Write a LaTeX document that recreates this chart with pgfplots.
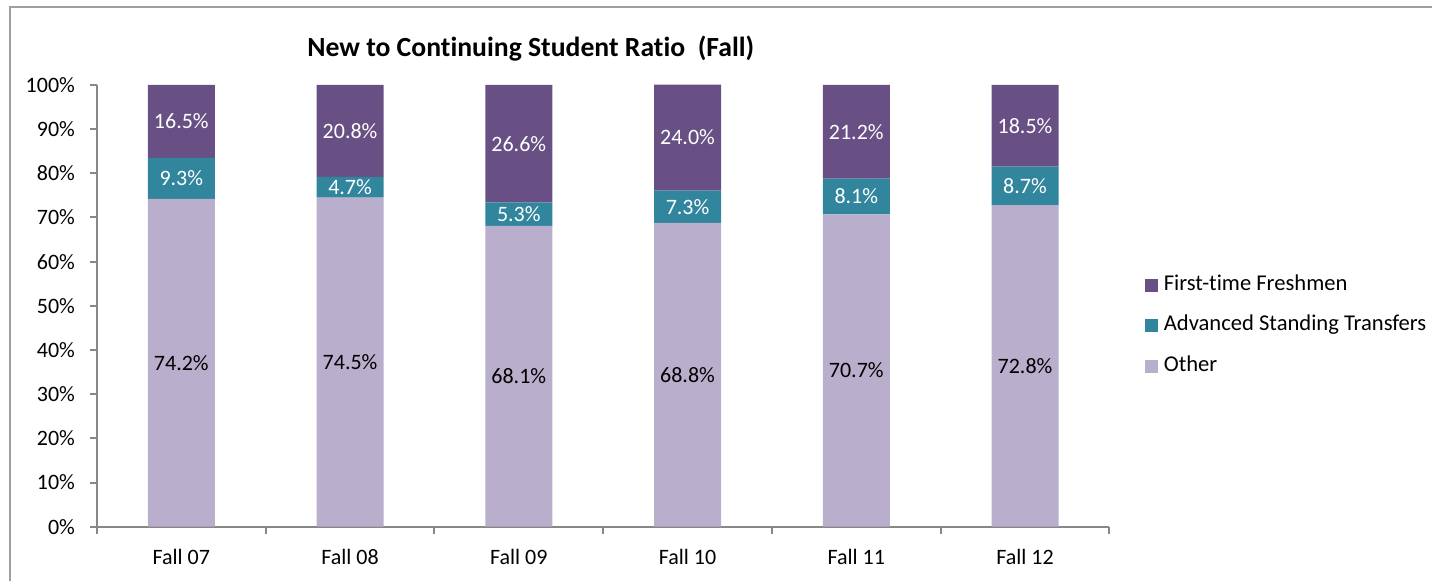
\documentclass[border=0pt]{standalone}
\usepackage{fontspec}
\setmainfont[RawFeature={-liga;-clig;-calt;-dlig}]{Carlito}
\usepackage{pgfplots}
\usepackage{pgfplotstable}
\pgfplotsset{compat=1.18}

\definecolor{ftf}{HTML}{685084}
\definecolor{ast}{HTML}{31859C}
\definecolor{oth}{HTML}{B9AECB}
\definecolor{axgray}{HTML}{878787}

% shares per term (percent)
\pgfplotstableread{
x other ast ftf
0 74.2 9.3 16.5
1 74.5 4.7 20.8
2 68.1 5.3 26.6
3 68.8 7.3 24.0
4 70.7 8.1 21.2
5 72.8 8.7 18.5
}\shares

% label positions (middle of each segment)
\pgfplotstableread{
x ymid val
0 37.10 74.2
1 37.25 74.5
2 34.05 68.1
3 34.40 68.8
4 35.35 70.7
5 36.40 72.8
}\lblother
\pgfplotstableread{
x ymid val
0 78.85 9.3
1 76.85 4.7
2 70.75 5.3
3 72.45 7.3
4 74.75 8.1
5 77.15 8.7
}\lblast
\pgfplotstableread{
x ymid val
0 91.75 16.5
1 89.60 20.8
2 86.70 26.6
3 88.10 24.0
4 89.40 21.2
5 90.75 18.5
}\lblftf

\pgfplotsset{
  /pgf/number format/assume math mode=true,
  frame/.style={
    at={(48.5pt,27pt)}, anchor=south west,
    scale only axis, width=506.5pt, height=221pt,
    xmin=-0.5, xmax=5.5, ymin=0, ymax=100,
  },
}

\begin{document}
\begin{tikzpicture}
\path (0,0) rectangle (716.5pt,290.5pt);
\draw[axgray!80, line width=0.8pt] (5pt,0) -- (5pt,287pt) -- (716.5pt,287pt);

\begin{axis}[
    frame,
    ybar stacked,
    bar width=33.5pt,
    axis x line*=bottom,
    axis y line*=left,
    axis line style={axgray, line width=1pt},
    tick align=outside,
    major tick length=3.5pt,
    minor tick length=3.5pt,
    tick style={axgray, line width=1pt},
    xtick=data,
    xticklabels={Fall 07,Fall 08,Fall 09,Fall 10,Fall 11,Fall 12},
    major x tick style={draw=none},
    minor xtick={-0.5,0.5,...,5.5},
    ytick={0,10,...,100},
    yticklabel={\pgfmathprintnumber{\tick}\%},
    tick label style={font=\fontsize{11}{13}\selectfont},
    yticklabel style={xshift=-4pt},
    xticklabel style={yshift=-4pt},
    legend style={
      at={(1.0346,0.4548)}, anchor=west,
      draw=none, fill=none, inner sep=0pt,
      font=\fontsize{11.3}{13}\selectfont,
      row sep=10.25pt, column sep=3pt,
      nodes={inner sep=0pt, text height=7.5pt, text depth=2.5pt},
    },
    legend cell align=left,
    reverse legend,
    legend image code/.code={\fill[#1] (0pt,-3.25pt) rectangle (6.5pt,3.25pt);},
]
\addplot[fill=oth, draw=none] table[x=x, y=other] {\shares};
\addlegendentry{Other}
\addplot[fill=ast, draw=none] table[x=x, y=ast] {\shares};
\addlegendentry{Advanced Standing Transfers}
\addplot[fill=ftf, draw=none] table[x=x, y=ftf] {\shares};
\addlegendentry{First-time Freshmen}
\end{axis}

\begin{axis}[
    frame, hide axis, clip=false,
    nodes near coords={\pgfmathprintnumber[fixed,fixed zerofill,precision=1]{\pgfplotspointmeta}\%},
    every node near coord/.append style={anchor=center, font=\fontsize{11}{13}\selectfont},
]
\addplot[draw=none, mark=none, point meta=explicit,
  every node near coord/.append style={text=black}]
  table[x=x, y=ymid, meta=val] {\lblother};
\addplot[draw=none, mark=none, point meta=explicit,
  every node near coord/.append style={text=white}]
  table[x=x, y=ymid, meta=val] {\lblast};
\addplot[draw=none, mark=none, point meta=explicit,
  every node near coord/.append style={text=white}]
  table[x=x, y=ymid, meta=val] {\lblftf};
\end{axis}

\node[anchor=base, font=\bfseries\fontsize{13.85}{16}\selectfont]
  at (265.5pt,262pt) {New to Continuing Student Ratio~~(Fall)};
\end{tikzpicture}
\end{document}
